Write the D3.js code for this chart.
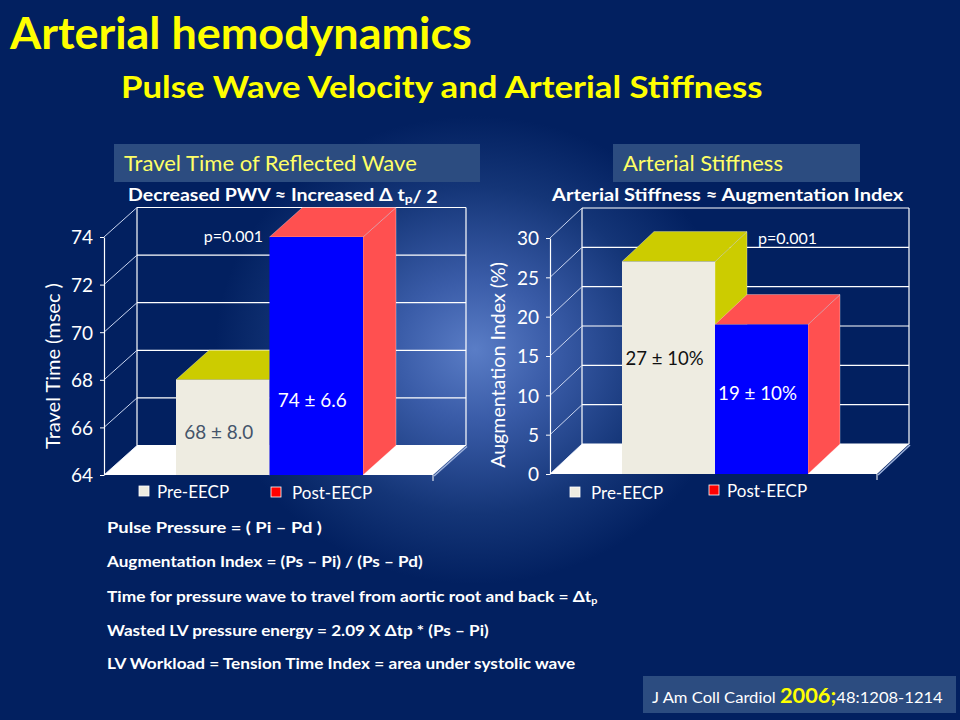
<!DOCTYPE html>
<html><head><meta charset="utf-8">
<script src="https://cdn.jsdelivr.net/npm/d3@7"></script>
<style>body{margin:0;background:#022060}svg{display:block}</style>
</head><body>
<svg id="c" width="960" height="720"></svg>
<script>
// ---------- data ----------
const categories = ["Pre-EECP", "Post-EECP"];
const travelTimeValues = [68, 74];
const travelTimeLabels = ["68 \u00B1 8.0", "74 \u00B1 6.6"];
const travelTimeTicks = [64, 66, 68, 70, 72, 74];
const augIndexValues = [27, 19];
const augIndexLabels = ["27 \u00B1 10%", "19 \u00B1 10%"];
const augIndexTicks = [0, 5, 10, 15, 20, 25, 30];
const pValueText = "p=0.001";
const formulaLines = [
  "Pulse Pressure = ( Pi \u2013 Pd )",
  "Augmentation Index = (Ps \u2013 Pi) / (Ps \u2013 Pd)",
  "Time for pressure wave to travel from aortic root and back = \u0394t_p",
  "Wasted LV pressure energy = 2.09 X \u0394tp * (Ps \u2013 Pi)",
  "LV Workload = Tension Time Index = area under systolic wave"
];

// ---------- styles ----------
const FONT = "Lato, 'Open Sans', sans-serif";
const frontColors = ["#EEECE1", "#0000FF"];
const sideColors = ["#CCCC00", "#FF5050"];
const legendColors = ["#EEECE1", "#FF0000"];
const labelColors = [null, "#FFFFFF"];

const svg = d3.select("#c");
const defs = svg.append("defs");
const rg = defs.append("radialGradient").attr("id", "bg")
  .attr("gradientUnits", "userSpaceOnUse").attr("cx", 475).attr("cy", 350).attr("r", 260)
  .attr("gradientTransform", "translate(475,350) scale(1,0.9) translate(-475,-350)");
rg.append("stop").attr("offset", 0).attr("stop-color", "#5a7dc6");
rg.append("stop").attr("offset", 0.3).attr("stop-color", "#3a5ca8");
rg.append("stop").attr("offset", 0.7).attr("stop-color", "#143577");
rg.append("stop").attr("offset", 1).attr("stop-color", "#022060");
svg.append("rect").attr("width", 960).attr("height", 720).attr("fill", "#022060");
svg.append("rect").attr("width", 960).attr("height", 720).attr("fill", "url(#bg)");

// scale text horizontally to a target width
function fit(sel, w, anchorX) {
  const n = sel.node();
  const bw = n.getBBox().width;
  if (!bw) return sel;
  const k = w / bw;
  sel.attr("transform", `translate(${anchorX},0) scale(${k},1) translate(${-anchorX},0)`);
  return sel;
}
function fitRot(sel, len, cx, cy) {
  const bw = sel.node().getBBox().width;
  const k = len / bw;
  sel.attr("transform", `translate(${cx},${cy}) rotate(-90) scale(${k},1)`);
}

// ---------- titles ----------
fit(svg.append("text").attr("x", 10).attr("y", 49).attr("font-family", FONT).attr("font-weight", 700)
  .attr("font-size", 44).attr("fill", "#FFFF00").text("Arterial hemodynamics"), 463, 10);
fit(svg.append("text").attr("x", 121).attr("y", 98).attr("font-family", FONT).attr("font-weight", 700)
  .attr("font-size", 31).attr("fill", "#FFFF00").text("Pulse Wave Velocity and Arterial Stiffness"), 642, 121);

// ---------- 3D bar chart ----------
function chart3D(o) {
  const g = svg.append("g");
  const y = d3.scaleLinear().domain(o.domain).range([o.yBottom, o.yTop]);
  const x = d3.scaleBand().domain(categories).range([o.bar0, o.bar1]).padding(0);
  const dx = o.dx, dy = o.dy;
  const yB = y(o.domain[0]), yT = y(o.domain[1]);

  // title box
  g.append("rect").attr("x", o.box[0]).attr("y", o.box[1]).attr("width", o.box[2]).attr("height", o.box[3])
    .attr("fill", "#2C4C80");
  fit(g.append("text").attr("x", o.box[0] + 10).attr("y", 171).attr("font-family", FONT).attr("font-size", 21)
    .attr("fill", "#FFFF66").text(o.title), o.titleW, o.box[0] + 10);

  // subtitle
  const st = g.append("text").attr("x", o.subX).attr("y", 201).attr("font-family", FONT)
    .attr("font-weight", 700).attr("font-size", 17).attr("fill", "#FFFFFF");
  o.subtitle.split("_p").forEach((part, i, arr) => {
    st.append("tspan").text(part);
    if (i < arr.length - 1) {
      st.append("tspan").attr("font-size", 12).attr("dy", 2).text("p");
      st.append("tspan").attr("dy", -2).text("");
    }
  });
  fit(st, o.subW, o.subX);

  // back wall grid
  g.selectAll(".grid").data(o.ticks).join("line")
    .attr("x1", o.x0 + dx).attr("x2", o.x1 + dx)
    .attr("y1", d => y(d) + dy).attr("y2", d => y(d) + dy)
    .attr("stroke", "#FFFFFF").attr("stroke-width", 1.2);
  [o.x0 + dx, o.x1 + dx].forEach(xx => g.append("line").attr("x1", xx).attr("x2", xx)
    .attr("y1", yT + dy).attr("y2", yB + dy).attr("stroke", "#FFFFFF").attr("stroke-width", 1.2));

  // side depth lines
  g.selectAll(".depth").data(o.ticks).join("line")
    .attr("x1", o.x0).attr("y1", d => y(d)).attr("x2", o.x0 + dx).attr("y2", d => y(d) + dy)
    .attr("stroke", "#C9D5F0").attr("stroke-width", 1);

  // floor
  g.append("polygon").attr("points", [[o.x0, yB], [o.x1, yB], [o.x1 + dx, yB + dy], [o.x0 + dx, yB + dy]].join(" "))
    .attr("fill", "#FFFFFF");
  g.append("line").attr("x1", o.x1).attr("y1", yB).attr("x2", o.x1 + dx).attr("y2", yB + dy)
    .attr("stroke", "#9FB3DC").attr("stroke-width", 1.5).attr("transform", "translate(1,1)");
  g.append("line").attr("x1", o.x1).attr("x2", o.x1).attr("y1", yB).attr("y2", yB + 6)
    .attr("stroke", "#FFFFFF").attr("stroke-width", 1);

  // axis
  const ax = g.append("g").attr("transform", `translate(${o.x0},0)`)
    .call(d3.axisLeft(y).tickValues(o.ticks).tickSize(4).tickSizeOuter(0).tickPadding(7));
  ax.select(".domain").attr("stroke", "#FFFFFF").attr("stroke-width", 1.2);
  ax.selectAll(".tick line").attr("stroke", "#FFFFFF");
  ax.selectAll(".tick text").attr("fill", "#FFFFFF").attr("font-family", FONT).attr("font-size", 19)
    .attr("dy", "0.36em");

  // bars
  o.values.forEach((v, i) => {
    const bx = x(categories[i]), bw = x.bandwidth(), top = y(v);
    g.append("polygon").attr("points", [[bx + bw, top], [bx + bw + dx, top + dy], [bx + bw + dx, yB + dy], [bx + bw, yB]].join(" "))
      .attr("fill", sideColors[i]).attr("stroke", "rgba(255,255,255,0.45)").attr("stroke-width", 0.7);
    g.append("polygon").attr("points", [[bx, top], [bx + dx, top + dy], [bx + bw + dx, top + dy], [bx + bw, top]].join(" "))
      .attr("fill", sideColors[i]).attr("stroke", "rgba(255,255,255,0.45)").attr("stroke-width", 0.7);
    g.append("rect").attr("x", bx).attr("y", top).attr("width", bw).attr("height", yB - top)
      .attr("fill", frontColors[i]);
  });
  // bar labels
  o.values.forEach((v, i) => {
    const bx = x(categories[i]) + x.bandwidth() / 2 - 4;
    const t = g.append("text").attr("x", bx).attr("y", o.labelY[i]).attr("text-anchor", "middle")
      .attr("dominant-baseline", "central").attr("font-family", FONT).attr("font-size", 19)
      .attr("fill", labelColors[i] || o.preLabelColor).text(o.labels[i]);
    const w = t.node().getBBox().width;
    fit(t, o.labelW[i], bx);
  });
  // p value
  g.append("text").attr("x", o.pPos[0]).attr("y", o.pPos[1]).attr("text-anchor", o.pAnchor)
    .attr("dominant-baseline", "central").attr("font-family", FONT).attr("font-size", 16)
    .attr("fill", "#FFFFFF").text(pValueText);

  // y-axis title
  const yt = g.append("text").attr("text-anchor", "middle").attr("dominant-baseline", "central")
    .attr("font-family", FONT).attr("font-size", 19).attr("fill", "#FFFFFF").text(o.yTitle);
  fitRot(yt, o.yTitleLen, o.yTitlePos[0], o.yTitlePos[1]);

  // legend
  categories.forEach((c, i) => {
    const L = o.legend[i];
    g.append("rect").attr("x", L[0]).attr("y", L[1]).attr("width", 10).attr("height", 10)
      .attr("fill", legendColors[i]).attr("stroke", "#FFFFFF").attr("stroke-width", 0.8);
    g.append("text").attr("x", L[2]).attr("y", L[1] + 5).attr("dominant-baseline", "central")
      .attr("font-family", FONT).attr("font-size", 17).attr("fill", "#FFFFFF").text(c);
  });
}

chart3D({
  domain: [64, 74], ticks: travelTimeTicks, values: travelTimeValues, labels: travelTimeLabels,
  x0: 104, x1: 433, yBottom: 475, yTop: 237, bar0: 176, bar1: 363, dx: 33, dy: -29.5,
  box: [114, 144, 366, 38], title: "Travel Time of Reflected Wave", titleW: 293,
  subtitle: "Decreased PWV \u2248 Increased \u0394 t_p/ 2", subX: 128, subW: 310,
  labelY: [431, 399], labelW: [69, 69], preLabelColor: "#44546A",
  pPos: [263, 235], pAnchor: "end",
  yTitle: "Travel Time (msec )", yTitleLen: 166, yTitlePos: [53, 366],
  legend: [[139, 486, 157], [271, 487, 292]]
});
chart3D({
  domain: [0, 30], ticks: augIndexTicks, values: augIndexValues, labels: augIndexLabels,
  x0: 550, x1: 877, yBottom: 474, yTop: 238, bar0: 622, bar1: 808, dx: 32, dy: -30,
  box: [613, 144, 247, 38], title: "Arterial Stiffness", titleW: 160,
  subtitle: "Arterial Stiffness \u2248  Augmentation Index", subX: 552, subW: 353,
  labelY: [357, 392], labelW: [78, 79], preLabelColor: "#111111",
  pPos: [758, 237], pAnchor: "start",
  yTitle: "Augmentation Index (%)", yTitleLen: 206, yTitlePos: [498, 365],
  legend: [[570, 487, 591], [709, 485, 727]]
});

// ---------- formulas ----------
const formulaY = [533, 567, 602, 636, 669];
const formulaW = [215, 317, 491, 382, 469];
formulaLines.forEach((line, i) => {
  const t = svg.append("text").attr("x", 107).attr("y", formulaY[i]).attr("font-family", FONT)
    .attr("font-weight", 700).attr("font-size", 16).attr("fill", "#FFFFFF");
  line.split("_p").forEach((part, j, arr) => {
    t.append("tspan").text(part);
    if (j < arr.length - 1) t.append("tspan").attr("font-size", 10).attr("dy", 2).text("p");
  });
  fit(t, formulaW[i], 107);
});

// ---------- citation ----------
svg.append("rect").attr("x", 643).attr("y", 676).attr("width", 313).attr("height", 37).attr("fill", "#2C4C80");
const cit = svg.append("text").attr("x", 652).attr("y", 703).attr("font-family", FONT).attr("font-size", 16).attr("fill", "#FFFFFF");
cit.append("tspan").text("J Am Coll Cardiol ");
cit.append("tspan").attr("font-size", 21).attr("font-weight", 700).attr("fill", "#FFFF00").text("2006;");
cit.append("tspan").text("48:1208-1214");
fit(cit, 291, 652);
</script>
</body></html>
